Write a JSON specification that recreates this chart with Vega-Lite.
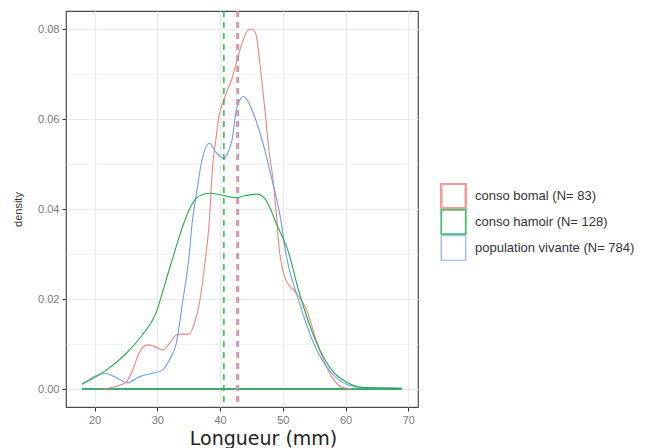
{
  "$schema": "https://vega.github.io/schema/vega-lite/v6.json",
  "width": 352,
  "height": 396,
  "autosize": {"type": "none"},
  "padding": {"left": 66, "top": 11, "right": 251, "bottom": 41},
  "background": "white",
  "config": {
    "view": {"stroke": "#4d4d4d", "strokeWidth": 1.2, "fill": "white"},
    "font": "Liberation Sans"
  },
  "datasets": {
    "curves": [
      {"g": "conso bomal", "x": 21.5, "y": 0},
      {"g": "conso bomal", "x": 23.2, "y": 0.0005},
      {"g": "conso bomal", "x": 25, "y": 0.0015},
      {"g": "conso bomal", "x": 26, "y": 0.004},
      {"g": "conso bomal", "x": 27.1, "y": 0.008},
      {"g": "conso bomal", "x": 28.4, "y": 0.0098},
      {"g": "conso bomal", "x": 29.5, "y": 0.0095},
      {"g": "conso bomal", "x": 30.8, "y": 0.0087},
      {"g": "conso bomal", "x": 32, "y": 0.0102},
      {"g": "conso bomal", "x": 33, "y": 0.012},
      {"g": "conso bomal", "x": 34, "y": 0.0122},
      {"g": "conso bomal", "x": 35.1, "y": 0.0122},
      {"g": "conso bomal", "x": 36, "y": 0.015},
      {"g": "conso bomal", "x": 36.7, "y": 0.019},
      {"g": "conso bomal", "x": 37.5, "y": 0.027},
      {"g": "conso bomal", "x": 38.3, "y": 0.0375},
      {"g": "conso bomal", "x": 38.8, "y": 0.0493},
      {"g": "conso bomal", "x": 39.3, "y": 0.055},
      {"g": "conso bomal", "x": 39.8, "y": 0.0604},
      {"g": "conso bomal", "x": 40.8, "y": 0.065},
      {"g": "conso bomal", "x": 41.9, "y": 0.069},
      {"g": "conso bomal", "x": 42.7, "y": 0.073},
      {"g": "conso bomal", "x": 43.5, "y": 0.0768},
      {"g": "conso bomal", "x": 44.3, "y": 0.0795},
      {"g": "conso bomal", "x": 44.9, "y": 0.08},
      {"g": "conso bomal", "x": 45.5, "y": 0.0795},
      {"g": "conso bomal", "x": 45.9, "y": 0.0776},
      {"g": "conso bomal", "x": 46.3, "y": 0.073},
      {"g": "conso bomal", "x": 46.7, "y": 0.068},
      {"g": "conso bomal", "x": 47.3, "y": 0.06},
      {"g": "conso bomal", "x": 47.8, "y": 0.053},
      {"g": "conso bomal", "x": 48.4, "y": 0.047},
      {"g": "conso bomal", "x": 48.9, "y": 0.04},
      {"g": "conso bomal", "x": 49.4, "y": 0.0316},
      {"g": "conso bomal", "x": 50.5, "y": 0.0242},
      {"g": "conso bomal", "x": 52, "y": 0.0216},
      {"g": "conso bomal", "x": 53.6, "y": 0.0182},
      {"g": "conso bomal", "x": 55.7, "y": 0.0093},
      {"g": "conso bomal", "x": 57.8, "y": 0.0027},
      {"g": "conso bomal", "x": 59.4, "y": 0.0004},
      {"g": "conso bomal", "x": 61, "y": 0},
      {"g": "population vivante", "x": 18, "y": 0.001},
      {"g": "population vivante", "x": 20, "y": 0.0028},
      {"g": "population vivante", "x": 21.6, "y": 0.0035},
      {"g": "population vivante", "x": 23.2, "y": 0.0027},
      {"g": "population vivante", "x": 25.3, "y": 0.0014},
      {"g": "population vivante", "x": 27.1, "y": 0.0027},
      {"g": "population vivante", "x": 29.2, "y": 0.0035},
      {"g": "population vivante", "x": 30.8, "y": 0.0042},
      {"g": "population vivante", "x": 31.9, "y": 0.0064},
      {"g": "population vivante", "x": 33, "y": 0.01},
      {"g": "population vivante", "x": 34, "y": 0.019},
      {"g": "population vivante", "x": 35.1, "y": 0.03},
      {"g": "population vivante", "x": 35.6, "y": 0.0375},
      {"g": "population vivante", "x": 36.2, "y": 0.043},
      {"g": "population vivante", "x": 37, "y": 0.05},
      {"g": "population vivante", "x": 38.3, "y": 0.0546},
      {"g": "population vivante", "x": 39.3, "y": 0.0527},
      {"g": "population vivante", "x": 40.5, "y": 0.0513},
      {"g": "population vivante", "x": 41.9, "y": 0.0553},
      {"g": "population vivante", "x": 42.7, "y": 0.0627},
      {"g": "population vivante", "x": 43.8, "y": 0.065},
      {"g": "population vivante", "x": 45.1, "y": 0.062},
      {"g": "population vivante", "x": 46.7, "y": 0.0553},
      {"g": "population vivante", "x": 48.3, "y": 0.0464},
      {"g": "population vivante", "x": 49.7, "y": 0.0375},
      {"g": "population vivante", "x": 50.5, "y": 0.03},
      {"g": "population vivante", "x": 52.5, "y": 0.0198},
      {"g": "population vivante", "x": 55.2, "y": 0.0093},
      {"g": "population vivante", "x": 57.8, "y": 0.0035},
      {"g": "population vivante", "x": 60.5, "y": 0.0009},
      {"g": "population vivante", "x": 63, "y": 0.0003},
      {"g": "population vivante", "x": 69, "y": 0.0002},
      {"g": "conso hamoir", "x": 18, "y": 0.0011},
      {"g": "conso hamoir", "x": 21.9, "y": 0.0042},
      {"g": "conso hamoir", "x": 25.1, "y": 0.008},
      {"g": "conso hamoir", "x": 27.6, "y": 0.012},
      {"g": "conso hamoir", "x": 29.8, "y": 0.0169},
      {"g": "conso hamoir", "x": 31.4, "y": 0.0242},
      {"g": "conso hamoir", "x": 33, "y": 0.0316},
      {"g": "conso hamoir", "x": 34.4, "y": 0.0375},
      {"g": "conso hamoir", "x": 35.5, "y": 0.041},
      {"g": "conso hamoir", "x": 36.6, "y": 0.0428},
      {"g": "conso hamoir", "x": 38.3, "y": 0.0435},
      {"g": "conso hamoir", "x": 40.3, "y": 0.0431},
      {"g": "conso hamoir", "x": 42.5, "y": 0.0425},
      {"g": "conso hamoir", "x": 44.1, "y": 0.043},
      {"g": "conso hamoir", "x": 45.9, "y": 0.0433},
      {"g": "conso hamoir", "x": 47.2, "y": 0.0422},
      {"g": "conso hamoir", "x": 48.1, "y": 0.0398},
      {"g": "conso hamoir", "x": 48.9, "y": 0.037},
      {"g": "conso hamoir", "x": 51, "y": 0.03},
      {"g": "conso hamoir", "x": 52.5, "y": 0.022},
      {"g": "conso hamoir", "x": 55.2, "y": 0.0109},
      {"g": "conso hamoir", "x": 57.8, "y": 0.0042},
      {"g": "conso hamoir", "x": 60.5, "y": 0.0013},
      {"g": "conso hamoir", "x": 63, "y": 0.0003},
      {"g": "conso hamoir", "x": 69, "y": 0.0001}
    ],
    "means": [
      {"g": "conso bomal", "m": 42.75},
      {"g": "population vivante", "m": 42.95},
      {"g": "conso hamoir", "m": 40.6}
    ],
    "bases": [
      {"g": "conso bomal", "a": 21.5, "b": 61, "y": 0},
      {"g": "population vivante", "a": 18, "b": 69, "y": 0},
      {"g": "conso hamoir", "a": 18, "b": 69, "y": 0}
    ]
  },
  "layer": [
    {
      "data": {"name": "bases"},
      "mark": {"type": "rule", "strokeWidth": 1.5},
      "encoding": {
        "x": {"field": "a", "type": "quantitative"},
        "x2": {"field": "b"},
        "y": {"field": "y", "type": "quantitative"},
        "color": {"field": "g", "type": "nominal"}
      }
    },
    {
      "data": {"name": "curves"},
      "mark": {"type": "line", "interpolate": "monotone", "strokeWidth": 1.1},
      "encoding": {
        "x": {
          "field": "x", "type": "quantitative",
          "scale": {"domain": [15.45, 71.55], "nice": false, "zero": false},
          "axis": {
            "values": [20, 25, 30, 35, 40, 45, 50, 55, 60, 65, 70],
            "labelExpr": "datum.value % 10 === 0 ? datum.label : ''",
            "grid": true,
            "gridColor": "#ebebeb",
            "gridWidth": {"condition": {"test": "datum.value % 10 !== 0", "value": 0.6}, "value": 1.1},
            "tickOpacity": {"condition": {"test": "datum.value % 10 !== 0", "value": 0}, "value": 1},
            "domain": false,
            "tickColor": "#333333",
            "tickSize": 4,
            "labelColor": "#7a7a7a",
            "labelFontSize": 11,
            "labelPadding": 3,
            "title": "Longueur (mm)",
            "titleFont": "DejaVu Sans",
            "titleFontSize": 19,
            "titleFontWeight": "normal",
            "titleColor": "#222222",
            "titleX": 197,
            "titleY": 41,
            "titleAlign": "center",
            "titleBaseline": "bottom"
          }
        },
        "y": {
          "field": "y", "type": "quantitative",
          "scale": {"domain": [-0.004, 0.084], "nice": false, "zero": false},
          "axis": {
            "values": [0, 0.01, 0.02, 0.03, 0.04, 0.05, 0.06, 0.07, 0.08],
            "labelExpr": "round(datum.value * 100) % 2 === 0 ? format(datum.value, '.2f') : ''",
            "grid": true,
            "gridColor": "#ebebeb",
            "gridWidth": {"condition": {"test": "round(datum.value * 100) % 2 !== 0", "value": 0.6}, "value": 1.1},
            "tickOpacity": {"condition": {"test": "round(datum.value * 100) % 2 !== 0", "value": 0}, "value": 1},
            "domain": false,
            "tickColor": "#333333",
            "tickSize": 4,
            "labelColor": "#7a7a7a",
            "labelFontSize": 11,
            "labelPadding": 3,
            "title": "density",
            "titleFontSize": 11,
            "titleFontWeight": "normal",
            "titleColor": "#333333",
            "titlePadding": 14
          }
        },
        "color": {
          "field": "g", "type": "nominal",
          "scale": {
            "domain": ["conso bomal", "conso hamoir", "population vivante"],
            "range": ["#f2837d", "#27ad4f", "#6d9cf2"]
          },
          "legend": {
            "title": null,
            "orient": "none",
            "legendX": 374,
            "legendY": 172,
            "symbolType": "square",
            "symbolSize": 600,
            "symbolFillColor": "white",
            "symbolStrokeWidth": 1.5,
            "symbolDash": [],
            "labelExpr": "datum.label === 'conso bomal' ? 'conso bomal  (N= 83)' : datum.label === 'conso hamoir' ? 'conso hamoir (N= 128)' : 'population vivante (N= 784)'",
            "labelFontSize": 13,
            "labelColor": "#333333",
            "labelOffset": 8,
            "clipHeight": 26,
            "rowPadding": 0,
            "padding": 0
          }
        }
      }
    },
    {
      "data": {"name": "means"},
      "mark": {"type": "rule", "strokeDash": [6, 5], "opacity": 0.8},
      "encoding": {
        "x": {"field": "m", "type": "quantitative"},
        "color": {"field": "g", "type": "nominal"},
        "strokeWidth": {
          "field": "g", "type": "nominal",
          "scale": {
            "domain": ["conso bomal", "conso hamoir", "population vivante"],
            "range": [2.5, 1.2, 2.5]
          },
          "legend": null
        }
      }
    }
  ]
}
